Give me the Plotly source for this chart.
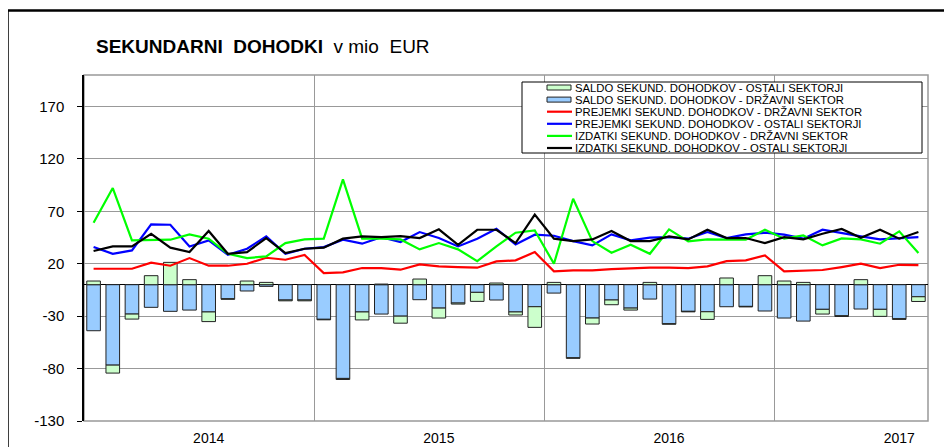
import plotly.graph_objects as go

# monthly data, Jan 2014 - Aug 2017 (mio EUR)
years = ["2014", "2015", "2016", "2017"]
y_ticks = [-130, -80, -30, 20, 70, 120, 170]

saldo_ostali = [3.5, -7.6, -4.8, 8.6, 21.3, 4.8, -9.2, -0.5, 3.5, 2.2, -0.8, -0.8,
                -0.5, -1.0, -7.6, 0.6, -6.7, 5.4, -9.5, -1.0, -8.6, 1.6, -2.9, -19.7,
                2.2, -0.5, -5.7, -4.5, -1.9, 2.2, -0.5, -0.5, -7.3, 6.4, -0.5, 8.6,
                3.5, 2.2, -4.5, -0.7, 4.8, -6.7, -0.7, -4.5]
saldo_drzavni = [-43.9, -76.7, -28.0, -21.6, -25.4, -24.2, -26.0, -13.4, -6.0, -1.6, -14.6, -14.6,
                 -33.0, -89.4, -26.0, -28.0, -30.0, -14.3, -22.3, -17.5, -7.3, -14.6, -26.0, -21.0,
                 -8.0, -69.7, -31.8, -14.6, -22.3, -13.7, -37.2, -25.4, -25.8, -21.0, -20.7, -25.1,
                 -31.8, -34.7, -23.5, -29.6, -23.2, -23.5, -32.4, -11.5]
prejemki_drzavni = [15.2, 15.2, 15.2, 21.0, 18.1, 25.4, 18.1, 18.1, 20.0, 25.7, 23.8, 28.3,
                    11.1, 11.7, 15.9, 15.9, 14.3, 19.4, 17.5, 16.8, 16.2, 22.2, 23.2, 31.1,
                    12.7, 13.6, 13.6, 14.9, 15.9, 16.2, 16.2, 15.9, 17.5, 22.5, 23.2, 28.0,
                    12.7, 13.3, 14.0, 16.8, 20.0, 15.9, 19.0, 18.7]
prejemki_ostali = [35.9, 29.5, 32.7, 57.5, 57.2, 36.5, 42.3, 28.6, 34.3, 46.1, 29.5, 34.3,
                   35.9, 42.9, 39.1, 45.4, 40.7, 50.2, 44.5, 36.5, 43.9, 53.4, 38.4, 47.7,
                   46.7, 41.6, 37.5, 48.0, 42.3, 44.8, 45.4, 43.9, 50.2, 44.5, 48.0, 49.6,
                   47.7, 43.9, 52.4, 49.6, 46.1, 43.2, 44.5, 45.4]
izdatki_drzavni = [59.1, 92.2, 42.3, 42.3, 42.9, 48.0, 43.9, 29.5, 25.4, 27.0, 39.7, 43.2,
                   43.9, 100.5, 43.9, 43.9, 43.2, 33.7, 39.7, 33.7, 22.5, 36.5, 49.6, 51.8,
                   20.0, 82.0, 41.6, 30.5, 38.1, 29.5, 52.8, 41.3, 43.2, 42.9, 42.9, 52.4,
                   43.9, 47.0, 37.5, 44.2, 43.2, 39.1, 50.9, 30.2]
izdatki_ostali = [32.1, 36.5, 36.5, 48.6, 35.3, 31.1, 51.2, 29.5, 31.1, 44.5, 30.2, 34.3,
                  35.3, 43.9, 46.1, 45.4, 46.4, 44.5, 52.8, 38.1, 52.4, 52.4, 39.7, 66.8,
                  43.9, 41.6, 43.2, 51.2, 41.6, 41.6, 46.1, 43.2, 52.4, 44.5, 44.5, 39.7,
                  45.4, 43.2, 48.6, 53.1, 44.8, 52.4, 43.9, 50.2]

bar_names = ["SALDO SEKUND. DOHODKOV - OSTALI SEKTORJI", "SALDO SEKUND. DOHODKOV - DRŽAVNI SEKTOR"]
line_names = ["PREJEMKI SEKUND. DOHODKOV - DRŽAVNI SEKTOR", "PREJEMKI SEKUND. DOHODKOV - OSTALI SEKTORJI",
              "IZDATKI SEKUND. DOHODKOV - DRŽAVNI SEKTOR", "IZDATKI SEKUND. DOHODKOV - OSTALI SEKTORJI"]
bar_colors = ["#CCFFCC", "#99CCFF"]
line_colors = ["#FF0000", "#0000FF", "#00FF00", "#000000"]

FONT = "Liberation Sans, Arial, sans-serif"
# the page body has an 8px margin, so the figure is laid out 8px smaller
OFF = 8
W, H = 952 - OFF, 447 - OFF
L, R, T, B = 84 - OFF, 24, 75 - OFF, 26

x = list(range(len(saldo_drzavni)))

fig = go.Figure()
# state sector saldo first so it sits next to zero, other sectors stacked beyond it
fig.add_trace(go.Bar(x=x, y=saldo_drzavni, marker=dict(color=bar_colors[1], line=dict(color="#222", width=1)),
                     name=bar_names[1], showlegend=False))
fig.add_trace(go.Bar(x=x, y=saldo_ostali, marker=dict(color=bar_colors[0], line=dict(color="#222", width=1)),
                     name=bar_names[0], showlegend=False))
for name, vals, col in zip(line_names, [prejemki_drzavni, prejemki_ostali, izdatki_drzavni, izdatki_ostali], line_colors):
    fig.add_trace(go.Scatter(x=x, y=vals, mode="lines", name=name, line=dict(color=col, width=2.2),
                             showlegend=False))


# helpers: screen pixel (as in the picture) -> paper coords
def px(xp):
    return (xp - OFF - L) / (W - L - R)


def py(yp):
    return (H - B - (yp - OFF)) / (H - T - B)


shapes = [
    # plot frame (grey), the outer black frame of the picture
    dict(type="rect", xref="paper", yref="paper", x0=0, x1=1, y0=0, y1=1,
         line=dict(color="#999", width=1.5), layer="below"),
    dict(type="rect", xref="paper", yref="paper", x0=px(7.5), x1=px(990), y0=py(480), y1=py(10.5),
         line=dict(color="black", width=2.5)),
    # legend box
    dict(type="rect", xref="paper", yref="paper", x0=px(522), x1=px(922), y0=py(153), y1=py(82),
         line=dict(color="black", width=1), fillcolor="white"),
]
annotations = []
rows = bar_names + line_names
row_y = [87.5 + 12.1 * i for i in range(len(rows))]
for i, name in enumerate(rows):
    yc = row_y[i]
    if i < 2:
        shapes.append(dict(type="rect", xref="paper", yref="paper", x0=px(547), x1=px(571),
                           y0=py(yc + 2.5), y1=py(yc - 2.5), fillcolor=bar_colors[i],
                           line=dict(color="#222", width=1)))
    else:
        shapes.append(dict(type="line", xref="paper", yref="paper", x0=px(547), x1=px(572),
                           y0=py(yc), y1=py(yc), line=dict(color=line_colors[i - 2], width=2.2)))
    annotations.append(dict(text=name, xref="paper", yref="paper", x=px(574), y=py(yc),
                            xanchor="left", yanchor="middle", showarrow=False, borderpad=0,
                            font=dict(family=FONT, size=11.3, color="black")))

fig.update_layout(
    width=W, height=H, margin=dict(l=L, r=R, t=T, b=B),
    paper_bgcolor="white", plot_bgcolor="white",
    barmode="relative", bargap=0.29,
    title=dict(text="<b>SEKUNDARNI  DOHODKI</b>  v mio  EUR", xref="container", x=(96 - OFF) / W,
               xanchor="left", yref="container", y=1 - (46 - OFF) / H, yanchor="middle",
               font=dict(family=FONT, size=19, color="black")),
    shapes=shapes, annotations=annotations,
    font=dict(family=FONT, color="black"),
)
fig.update_xaxes(range=[-0.5, len(x) - 0.5], tickmode="array", automargin=False,
                 tickvals=[12 * i + 6 for i in range(len(years))], ticktext=years,
                 ticks="", showgrid=False, zeroline=False, showline=False,
                 tickfont=dict(family=FONT, size=14), ticklabelstandoff=7,
                 minor=dict(tickmode="linear", tick0=-0.5, dtick=12, showgrid=True,
                            gridcolor="#999", gridwidth=1.2, ticks=""))
fig.update_yaxes(range=[-130, 200], tickmode="array", automargin=False,
                 tickvals=y_ticks, ticktext=[str(v) for v in y_ticks],
                 showgrid=True, gridcolor="#999", gridwidth=1.2,
                 zeroline=True, zerolinecolor="black", zerolinewidth=1,
                 showline=True, linecolor="black", linewidth=1.5,
                 ticks="outside", ticklen=5, tickcolor="black",
                 tickfont=dict(family=FONT, size=15), ticklabelstandoff=10)

fig.write_html("out.html")
